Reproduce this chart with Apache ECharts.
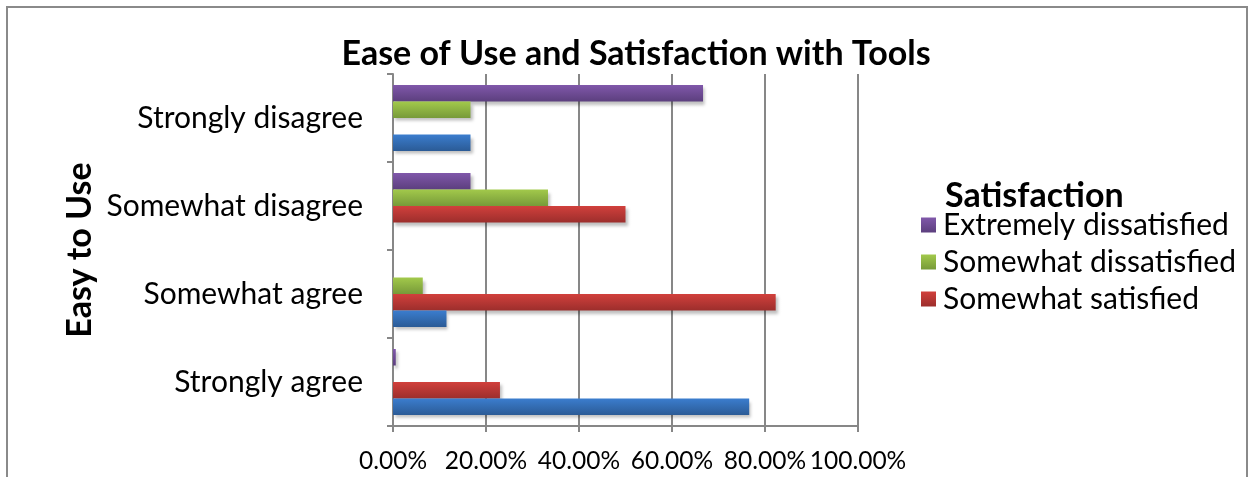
<!DOCTYPE html>
<html>
<head>
<meta charset="utf-8">
<script src="https://cdn.jsdelivr.net/npm/echarts@6/dist/echarts.min.js"></script>
<style>
  html, body { margin: 0; padding: 0; background: #fff; }
  #main { width: 1253px; height: 477px; }
</style>
</head>
<body>
<div id="main"></div>
<script>
// categories bottom -> top, as ECharts draws a category y axis
var categories = ['Strongly agree', 'Somewhat agree', 'Somewhat disagree', 'Strongly disagree']

// share of answers, per satisfaction level (same order as categories)
var extremelySatisfied = [0.766, 0.115, 0, 0.1667]
var somewhatSatisfied = [0.23, 0.823, 0.50, 0]
var somewhatDissatisfied = [0, 0.064, 0.3333, 0.1667]
var extremelyDissatisfied = [0.006, 0, 0.1667, 0.6667]

var legendNames = ['Extremely dissatisfied', 'Somewhat dissatisfied', 'Somewhat satisfied']

var FONT = 'Lato'

function grad(top, bottom) {
  return new echarts.graphic.LinearGradient(0, 0, 0, 1, [
    {offset: 0, color: top},
    {offset: 1, color: bottom}
  ])
}

function barSeries(name, data, top, bottom) {
  return {
    name: name,
    type: 'bar',
    data: data,
    barGap: '0%',
    barCategoryGap: '25%',
    itemStyle: {
      color: grad(top, bottom),
      shadowColor: 'rgba(0,0,0,0.25)',
      shadowBlur: 3,
      shadowOffsetX: 2,
      shadowOffsetY: 3
    },
    emphasis: {disabled: true}
  }
}

var option = {
  animation: false,
  backgroundColor: '#fff',
  textStyle: {fontFamily: FONT, color: '#000'},
  title: [{
    text: 'Ease of Use and Satisfaction with Tools',
    left: 631,
    textAlign: 'center',
    top: 32,
    textStyle: {fontFamily: FONT, fontSize: 34, fontWeight: 'bold', color: '#000'}
  }, {
    text: 'Satisfaction',
    left: 940,
    top: 174,
    textStyle: {fontFamily: FONT, fontSize: 34, fontWeight: 'bold', color: '#000'}
  }],
  graphic: [{
    type: 'rect',
    shape: {x: 7, y: 7, width: 1240, height: 500},
    style: {fill: 'none', stroke: '#8a8a8a', lineWidth: 2},
    silent: true
  }],
  legend: {
    data: legendNames,
    orient: 'vertical',
    left: 916,
    top: 205,
    itemWidth: 15,
    itemHeight: 15,
    itemGap: 7,
    icon: 'rect',
    textStyle: {fontFamily: FONT, fontSize: 30, color: '#000', padding: [0, 0, 0, 2]}
  },
  grid: {left: 393, right: 395, top: 74, bottom: 51, containLabel: false},
  xAxis: {
    type: 'value',
    min: 0,
    max: 1,
    interval: 0.2,
    axisLine: {show: true, lineStyle: {color: '#878787', width: 2}},
    axisTick: {show: true, length: 6, lineStyle: {color: '#878787', width: 2}},
    splitLine: {show: true, lineStyle: {color: '#878787', width: 2}},
    axisLabel: {
      fontFamily: FONT, fontSize: 24.5, color: '#000', margin: 23,
      formatter: function (v) { return (v * 100).toFixed(2) + '%' }
    }
  },
  yAxis: {
    type: 'category',
    data: categories,
    name: 'Easy to Use',
    nameLocation: 'middle',
    nameRotate: 90,
    nameGap: 296,
    nameTextStyle: {fontFamily: FONT, fontSize: 34, fontWeight: 'bold', color: '#000'},
    axisLine: {show: true, lineStyle: {color: '#878787', width: 2}},
    axisTick: {show: true, length: 6, lineStyle: {color: '#878787', width: 2}},
    splitLine: {show: false},
    axisLabel: {fontFamily: FONT, fontSize: 30, color: '#000', margin: 30}
  },
  // first series is drawn at the top of each category band
  series: [
    barSeries('Extremely dissatisfied', extremelyDissatisfied, '#8058aa', '#5c3f7e'),
    barSeries('Somewhat dissatisfied', somewhatDissatisfied, '#a2c94b', '#779a39'),
    barSeries('Somewhat satisfied', somewhatSatisfied, '#d1403c', '#9c2e2c'),
    barSeries('Extremely satisfied', extremelySatisfied, '#3b7dce', '#2b5b96')
  ]
}

echarts.init(document.getElementById('main')).setOption(option)
</script>
</body>
</html>
